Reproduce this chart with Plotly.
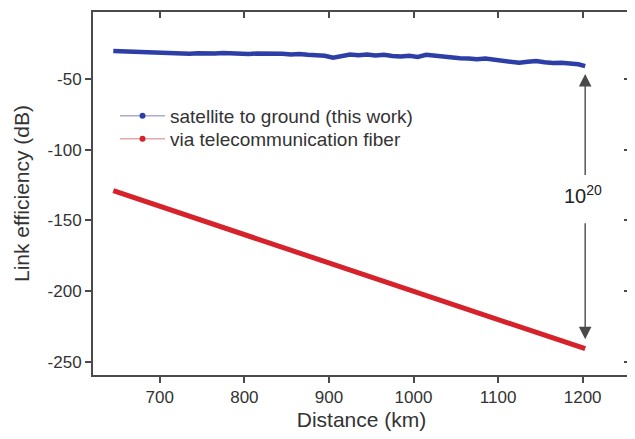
import plotly.graph_objects as go

# ---- data ----
sat_distance_km = [645, 655, 665, 675, 685, 695, 705, 715, 725, 735, 745, 755, 765, 775, 785,
                   795, 805, 815, 825, 835, 845, 855, 865, 875, 885, 895, 905, 915, 925, 935,
                   945, 955, 965, 975, 985, 995, 1005, 1015, 1025, 1035, 1045, 1055, 1065, 1075,
                   1085, 1095, 1105, 1115, 1125, 1135, 1145, 1155, 1165, 1175, 1185, 1195, 1203]
sat_efficiency_db = [-30.2, -30.5, -30.0, -31.0, -30.6, -31.5, -31.2, -32.0, -31.8, -32.2, -31.9,
                     -32.3, -32.0, -31.7, -32.1, -31.8, -32.4, -32.0, -31.9, -32.5, -32.2, -32.8,
                     -32.4, -32.9, -33.2, -33.6, -35.0, -33.5, -32.8, -33.2, -32.7, -33.4, -33.0,
                     -33.8, -34.2, -33.6, -34.4, -33.0, -33.6, -34.8, -35.0, -35.3, -35.6, -36.0,
                     -35.6, -36.4, -36.8, -37.5, -38.6, -37.8, -37.4, -38.2, -38.8, -38.5, -39.2,
                     -39.6, -41.0]

fiber_distance_km = [645, 675, 705, 735, 765, 795, 825, 855, 885, 915, 945, 975, 1005, 1035,
                     1065, 1095, 1125, 1155, 1185, 1203]
fiber_efficiency_db = [-129.0, -135.0, -141.0, -147.0, -153.0, -159.0, -165.0, -171.0, -177.0,
                       -183.0, -189.0, -195.0, -201.0, -207.0, -213.0, -219.0, -225.0, -231.0,
                       -237.0, -240.6]

series_names = ["satellite to ground (this work)", "via telecommunication fiber"]
x_ticks = [700, 800, 900, 1000, 1100, 1200]
y_ticks = [-50, -100, -150, -200, -250]
y_tick_labels = ["-50", "-100", "-150", "-200", "-250"]
gap_label = "10<sup>20</sup>"
gap_top_db = -46.5
gap_bottom_db = -234.0
gap_distance_km = 1203

BLUE = "#2d3fa6"
RED = "#d6222a"
AXIS = "#4a4a4a"
TEXT = "#333333"
FONT = "Liberation Sans, Arial, sans-serif"

fig = go.Figure()

fig.add_trace(go.Scatter(x=sat_distance_km, y=sat_efficiency_db, mode="lines",
                         line=dict(color=BLUE, width=4.5), showlegend=False))
fig.add_trace(go.Scatter(x=fiber_distance_km, y=fiber_efficiency_db, mode="lines",
                         line=dict(color=RED, width=5), showlegend=False))

# legend-only entries (pale line with a saturated dot), one legend box each for tight spacing
fig.add_trace(go.Scatter(x=[None], y=[None], mode="lines+markers", name=series_names[0],
                         line=dict(color="#a9aed0", width=1.5),
                         marker=dict(color=BLUE, size=6), legend="legend"))
fig.add_trace(go.Scatter(x=[None], y=[None], mode="lines+markers", name=series_names[1],
                         line=dict(color="#e2a9ab", width=1.5),
                         marker=dict(color=RED, size=6), legend="legend2"))

# mirrored axes with inward ticks
fig.add_trace(go.Scatter(x=[None], y=[None], xaxis="x2", yaxis="y2", showlegend=False))

# double arrow
fig.add_annotation(x=gap_distance_km, y=gap_top_db, ax=gap_distance_km, ay=-119,
                   axref="x", ayref="y", xref="x", yref="y", text="", showarrow=True,
                   arrowhead=2, arrowsize=1.8, arrowwidth=1.4, arrowcolor="#4a4a4a")
fig.add_annotation(x=gap_distance_km, y=gap_bottom_db, ax=gap_distance_km, ay=-151,
                   axref="x", ayref="y", xref="x", yref="y", text="", showarrow=True,
                   arrowhead=2, arrowsize=1.8, arrowwidth=1.4, arrowcolor="#4a4a4a")
fig.add_annotation(x=gap_distance_km - 2, y=-132, xref="x", yref="y", text=gap_label,
                   showarrow=False, font=dict(family=FONT, size=20, color="#222222"))

axis_common = dict(showgrid=False, zeroline=False, showline=True, linecolor=AXIS, linewidth=2,
                   tickcolor=AXIS, tickwidth=1.5, ticklen=6)

legend_common = dict(xanchor="left", yanchor="top", bgcolor="rgba(0,0,0,0)",
                     font=dict(size=19, color=TEXT), itemwidth=45)

# the page adds an 8px body margin, so the figure is sized to fit the 635x439 window
fig.update_layout(
    width=627, height=431,
    margin=dict(l=85, r=5, t=4, b=64),
    paper_bgcolor="white", plot_bgcolor="white",
    font=dict(family=FONT, color=TEXT, size=18),
    xaxis=dict(range=[621, 1256], tickvals=x_ticks, ticks="outside",
               title=dict(text="Distance (km)", font=dict(size=21, color=TEXT), standoff=6),
               tickfont=dict(size=17, color=TEXT), **axis_common),
    yaxis=dict(range=[-259.2, -2.7], tickvals=y_ticks, ticktext=y_tick_labels, ticks="outside",
               title=dict(text="Link efficiency (dB)", font=dict(size=21, color=TEXT), standoff=12),
               tickfont=dict(size=17, color=TEXT), **axis_common),
    xaxis2=dict(range=[621, 1256], tickvals=x_ticks, ticks="inside", side="top",
                overlaying="x", showticklabels=False, **axis_common),
    yaxis2=dict(range=[-259.2, -2.7], tickvals=y_ticks, ticks="inside", side="right",
                overlaying="y", showticklabels=False, **axis_common),
    legend=dict(x=0.041, y=0.766, **legend_common),
    legend2=dict(x=0.041, y=0.7025, **legend_common),
    showlegend=True,
)

fig.write_html("out.html")
